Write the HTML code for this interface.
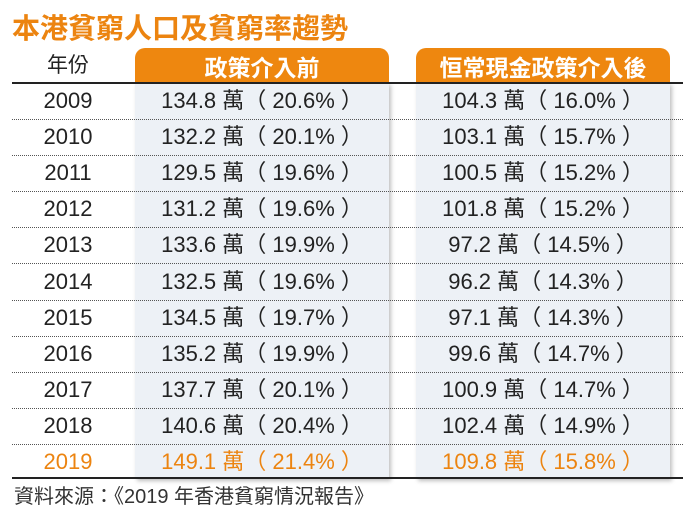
<!DOCTYPE html>
<html><head><meta charset="utf-8">
<style>
body{margin:0;background:#fff;width:697px;height:524px;overflow:hidden;position:relative;font-family:"Liberation Sans","Noto Sans CJK TC",sans-serif;}
.abs{position:absolute;}
#title{left:12px;top:9px;font-size:28px;font-weight:bold;color:#ec8410;font-family:"Noto Sans CJK TC",sans-serif;line-height:36px;}
.pill{top:48px;height:36px;background:#ee870f;border-radius:10px 10px 0 0;color:#fff;font-size:23px;font-weight:bold;text-align:center;line-height:36px;font-family:"Noto Sans CJK TC",sans-serif;}
.panel{top:83px;height:396px;background:#edf1f6;box-shadow:2px 2px 4px rgba(0,0,0,0.25);}
.cell{font-size:22px;color:#222;text-align:center;height:36px;line-height:36px;white-space:nowrap;}
.sep{left:12px;width:671px;height:0;border-top:1px dotted #555;}
</style></head><body>
<div id="title" class="abs">本港貧窮人口及貧窮率趨勢</div>
<div class="abs cell" style="left:20px;top:48px;width:96px;font-size:21px">年份</div>
<div class="abs panel" style="left:135px;width:254px"></div>
<div class="abs panel" style="left:416px;width:254px"></div>
<div class="abs pill" style="left:135px;width:254px">政策介入前</div>
<div class="abs pill" style="left:416px;width:254px">恒常現金政策介入後</div>
<div class="abs" style="left:12px;top:82px;width:671px;height:2px;background:#222"></div>
<div class="abs" style="left:12px;top:477px;width:671px;height:2px;background:#222"></div>
<div class="abs" style="left:14px;top:484px;font-size:20px;color:#333;line-height:26px">資料來源：《2019 年香港貧窮情況報告》</div>
<div id="rows"></div>
<script>
const years=["2009","2010","2011","2012","2013","2014","2015","2016","2017","2018","2019"];
const beforePop=["134.8","132.2","129.5","131.2","133.6","132.5","134.5","135.2","137.7","140.6","149.1"];
const beforeRate=["20.6","20.1","19.6","19.6","19.9","19.6","19.7","19.9","20.1","20.4","21.4"];
const afterPop=["104.3","103.1","100.5","101.8","97.2","96.2","97.1","99.6","100.9","102.4","109.8"];
const afterRate=["16.0","15.7","15.2","15.2","14.5","14.3","14.3","14.7","14.7","14.9","15.8"];
const root=document.getElementById('rows');
const rowH=36.1, top0=83;
function mk(cls,left,top,width,text,color){
  const d=document.createElement('div');
  d.className='abs '+cls;
  d.style.left=left+'px';d.style.top=top+'px';d.style.width=width+'px';
  if(text!==undefined)d.textContent=text;
  if(color)d.style.color=color;
  root.appendChild(d);return d;
}
years.forEach((y,i)=>{
  const t=top0+i*rowH;
  const last=i===years.length-1;
  const c=last?'#ec8410':null;
  const a=mk('cell',20,t,96,y,c);
  
  
  const b=mk('cell',135,t,254,beforePop[i]+' 萬（ '+beforeRate[i]+'% ）',c);
  
  
  const e=mk('cell',416,t,254,afterPop[i]+' 萬（ '+afterRate[i]+'% ）',c);
  
  
  if(!last){
    const s=mk('sep',12,Math.round(t+36),671);
    
    
  }
});
</script>
</body></html>
